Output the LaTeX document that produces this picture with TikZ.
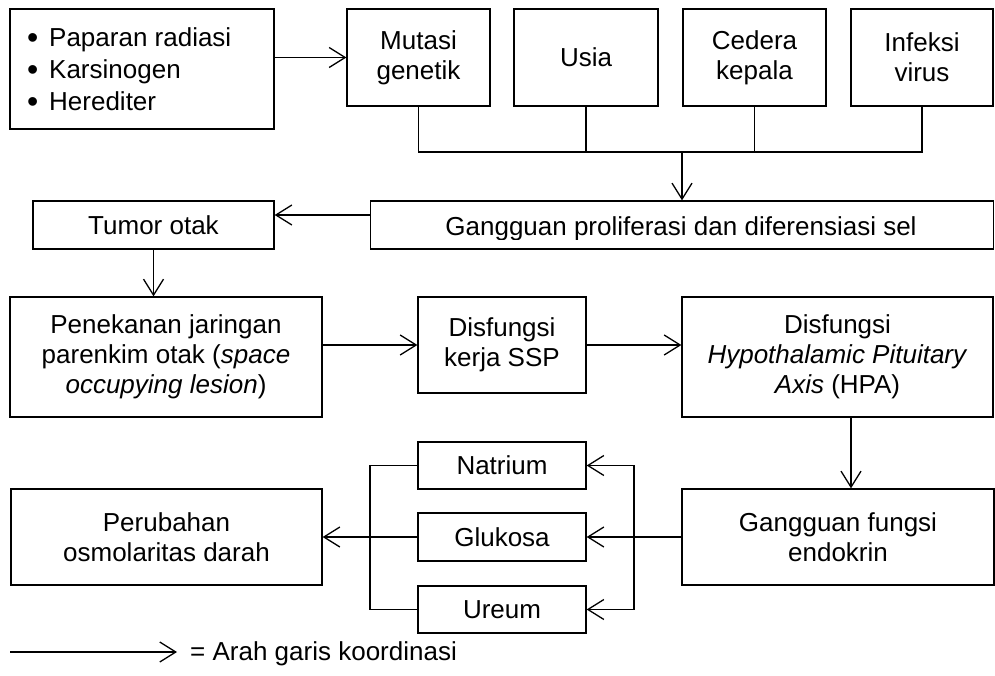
\documentclass[tikz,border=0pt]{standalone}
\usepackage{fontspec}
\setmainfont{Liberation Sans}
\usetikzlibrary{arrows.meta}
\newcommand{\bul}{\makebox[22pt][l]{\raisebox{-2.2pt}{\fontsize{32}{32}\selectfont•}}}
\begin{document}
\begin{tikzpicture}[x=1pt,y=-1pt,
  box/.style={draw, line width=1.3pt, inner sep=0pt, align=center, font=\fontsize{26}{30}\selectfont},
  txt/.style={inner sep=0pt, font=\fontsize{26}{30}\selectfont},
  ln/.style={line width=1.3pt},
  arr/.style={line width=1.3pt, -{Straight Barb[length=16pt,width=20pt,line width=1.3pt]}}]
\useasboundingbox (0,0) rectangle (995,676);
% top row
\node[box, minimum width=264pt, minimum height=120pt] (risk) at (142,69) {};
\node[txt, anchor=west, align=left, font=\fontsize{26}{32}\selectfont] (risktext) at (27,70)
  {\bul Paparan radiasi\\ \bul Karsinogen\\ \bul Herediter};
\node[box, minimum width=143pt, minimum height=97pt] (mutasi) at (418.5,57.5) {Mutasi\\genetik};
\node[box, minimum width=144pt, minimum height=97pt] (usia) at (586,57.5) {Usia};
\node[box, minimum width=143pt, minimum height=97pt] (cedera) at (754.5,57.5) {Cedera\\kepala};
\node[box, minimum width=142pt, minimum height=97pt] (infeksi) at (922,57.5) {Infeksi\\virus};
% second row
\node[box, minimum width=623pt, minimum height=48pt] (gangguan) at (682,225) {};
\begin{scope}
  \clip (371,202) rectangle (993,239.5);
  \node[txt, anchor=base] (gtext) at (681,236) {Gangguan proliferasi dan diferensiasi sel};
\end{scope}
\node[box, minimum width=241pt, minimum height=48pt] (tumor) at (153.5,225) {Tumor otak};
% third row
\node[box, minimum width=312pt, minimum height=120pt] (penekanan) at (166,357)
  {Penekanan jaringan\\parenkim otak (\textit{space}\\\textit{occupying lesion})};
\node[box, minimum width=168pt, minimum height=96pt] (ssp) at (502,345) {Disfungsi\\kerja SSP};
\node[box, minimum width=311pt, minimum height=120pt] (hpa) at (837.5,357)
  {Disfungsi\\\textit{Hypothalamic Pituitary}\\\textit{Axis} (HPA)};
% fourth row
\node[box, minimum width=312pt, minimum height=96pt] (endokrin) at (838,537) {Gangguan fungsi\\endokrin};
\node[box, minimum width=311pt, minimum height=96pt] (perubahan) at (166.5,537) {Perubahan\\osmolaritas darah};
\node[box, minimum width=168pt, minimum height=47pt] (natrium) at (502,465.5) {Natrium};
\node[box, minimum width=168pt, minimum height=48pt] (glukosa) at (502,537) {Glukosa};
\node[box, minimum width=168pt, minimum height=47pt] (ureum) at (502,609.5) {Ureum};
% helper coordinates
\coordinate (bus) at (682,152);
\coordinate (hv) at (851,0);
\coordinate (rb) at (634,0);
\coordinate (lb) at (370,0);
% connectors
\draw[arr] (risk.east |- mutasi.west) -- (mutasi.west);
\draw[ln] (mutasi.south) |- (bus) -| (infeksi.south);
\draw[ln] (usia.south) -- (usia.south |- bus);
\draw[ln] (cedera.south) -- (cedera.south |- bus);
\draw[arr] (bus) -- (gangguan.north);
\draw[arr] ([yshift=10pt]gangguan.west) -- ([yshift=10pt]tumor.east);
\draw[arr] (tumor.south) -- (tumor.south |- penekanan.north);
\draw[arr] (penekanan.east |- ssp.west) -- (ssp.west);
\draw[arr] (ssp.east) -- (ssp.east -| hpa.west);
\draw[arr] (hpa.south -| hv) -- (endokrin.north -| hv);
\draw[arr] (endokrin.west) -- (glukosa.east);
\draw[arr] (glukosa.east -| rb) |- (natrium.east);
\draw[arr] (glukosa.east -| rb) |- (ureum.east);
\draw[ln] (natrium.west) -| (ureum.west -| lb) -- (ureum.west);
\draw[arr] (glukosa.west) -- (perubahan.east);
% legend
\coordinate (l1) at (10,652);
\coordinate (l2) at (177,652);
\draw[arr] (l1) -- (l2);
\node[txt, anchor=base west] (legend) at (190,660) {= Arah garis koordinasi};
\end{tikzpicture}
\end{document}
